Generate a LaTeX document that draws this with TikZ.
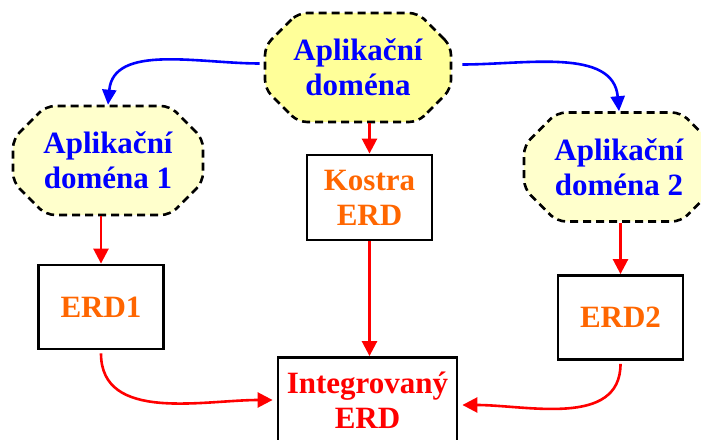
\documentclass[tikz,border=0pt]{standalone}
\usepackage{fontspec}
\setmainfont{Liberation Serif}
\usetikzlibrary{shapes.misc, arrows.meta}
\definecolor{cloudtop}{HTML}{FFFF99}
\definecolor{cloudside}{HTML}{FFFFCC}
\definecolor{erdorange}{HTML}{FF6600}
\tikzstyle{domcloud} = [chamfered rectangle, chamfered rectangle xsep=21pt, chamfered rectangle ysep=12pt, rounded corners=9pt, minimum width=190pt, minimum height=109pt, align=center, draw=black, dashed, dash pattern=on 8pt off 5pt, line width=2.6pt, text=blue, fill=cloudside]
\tikzstyle{erdbox} = [rectangle, minimum width=125pt, minimum height=84pt, align=center, draw=black, line width=2.8pt, text=erdorange]
\tikzstyle{bluearrow} = [line width=2.6pt, blue, -{Triangle[length=15pt,width=14pt]}]
\tikzstyle{redarrow} = [line width=2.6pt, red, -{Triangle[length=15pt,width=15pt]}]

\begin{document}
\begin{tikzpicture}[x=1pt, y=1pt, node distance=130pt, font=\bfseries\fontsize{31}{35}\selectfont]
        \useasboundingbox (0,0) rectangle (701,439);
        \node (dom) [domcloud, fill=cloudtop, minimum width=186pt] at (358,371.5) {Aplikační\\doména};
        \node (dom1) [domcloud, left of=dom, xshift=-120pt, yshift=-93pt] {Aplikační\\doména 1};
        \node (dom2) [domcloud, right of=dom, xshift=131pt, yshift=-99.5pt] {Aplikační\\doména 2};
        \node (kostra) [erdbox, below of=dom, xshift=11.5pt, minimum height=85pt] {Kostra\\ERD};
        \node (erd1) [erdbox, below of=dom1, xshift=-7pt, yshift=-16.5pt] {ERD1};
        \node (erd2) [erdbox, below of=dom2, xshift=1.5pt, yshift=-20.5pt] {ERD2};
        \node (integ) [erdbox, below of=kostra, xshift=-2pt, yshift=-72.5pt, minimum width=179pt, minimum height=85pt, text=red] {Integrovaný\\ERD};

        \draw [bluearrow] ([xshift=-4pt, yshift=4pt]dom.west) to[out=180, in=85] (dom1.north);
        \draw [bluearrow] ([xshift=10pt, yshift=3pt]dom.east) to[out=0, in=95] (dom2.north);
        \draw [redarrow] (dom.south -| kostra.north) -- (kostra.north);
        \draw [redarrow] (dom1.south -| erd1.north) -- (erd1.north);
        \draw [redarrow] (dom2.south -| erd2.north) -- (erd2.north);
        \draw [redarrow] (kostra.south) -- (kostra.south |- integ.north);
        \draw [redarrow] ([yshift=-3pt]erd1.south) to[out=-90, in=180] ([xshift=-4pt]integ.west);
        \draw [redarrow] ([yshift=-3pt]erd2.south) to[out=-90, in=0] ([xshift=4pt, yshift=-5pt]integ.east);
    \end{tikzpicture}
\end{document}
